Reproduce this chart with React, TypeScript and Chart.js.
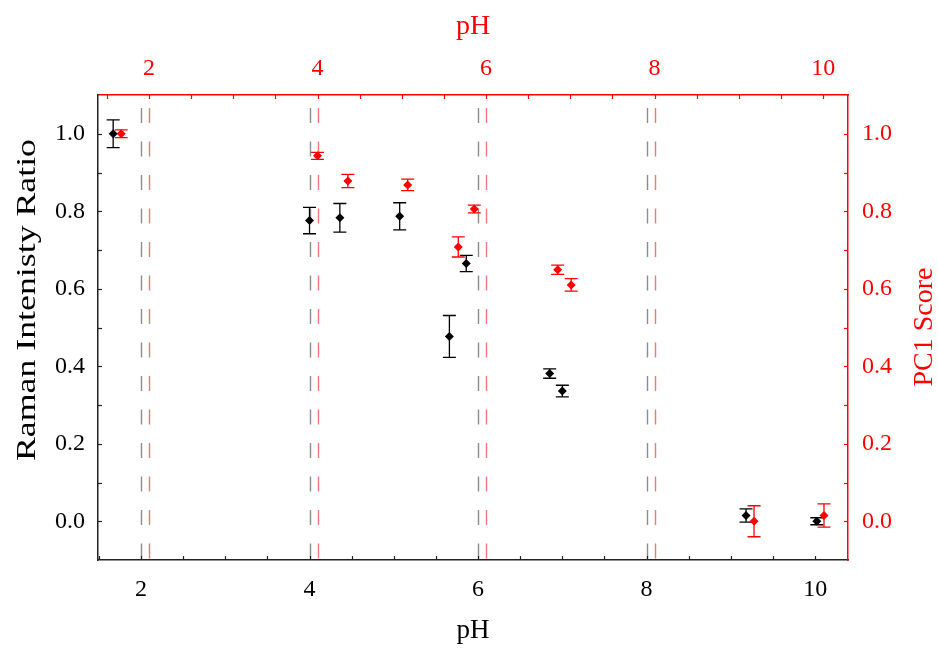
import React, { useEffect, useRef } from "react";
import { Chart, registerables } from "chart.js";
Chart.register(...registerables);

// ---- data ----
const ramanPH = [1.67, 4.0, 4.36, 5.07, 5.66, 5.86, 6.85, 7.0, 9.18, 10.02];
const ramanRatio = [1.0, 0.776, 0.783, 0.787, 0.477, 0.665, 0.381, 0.336, 0.015, 0.0];
const ramanErr = [0.036, 0.034, 0.037, 0.035, 0.054, 0.021, 0.012, 0.015, 0.017, 0.009];

const pc1PH = [1.67, 4.0, 4.36, 5.07, 5.67, 5.86, 6.85, 7.01, 9.18, 10.01];
const pc1Score = [1.0, 0.943, 0.878, 0.868, 0.708, 0.806, 0.649, 0.61, 0.0, 0.015];
const pc1Err = [0.01, 0.009, 0.017, 0.015, 0.026, 0.01, 0.012, 0.016, 0.04, 0.03];

const xTickLabels = [2, 4, 6, 8, 10];
const yTickLabels = [0.0, 0.2, 0.4, 0.6, 0.8, 1.0];
const xMinorTicks = [1.5, 2, 2.5, 3, 3.5, 4, 4.5, 5, 5.5, 6, 6.5, 7, 7.5, 8, 8.5, 9, 9.5, 10];
const yMinorTicks = [0, 0.1, 0.2, 0.3, 0.4, 0.5, 0.6, 0.7, 0.8, 0.9, 1.0];
const dashedPH = [2, 4, 6, 8];

const leftTitle = "Raman Intenisty Ratio";
const rightTitle = "PC1 Score";
const xTitle = "pH";

const SERIF = "'Liberation Serif', 'Times New Roman', serif";
const RED = "#ff0000";
const BLACK = "#000000";

const decorPlugin = {
  id: "decor",
  beforeDatasetsDraw(chart: any) {
    const { ctx, chartArea: a, scales } = chart;
    ctx.save();
    // dashed vertical reference lines
    ctx.lineWidth = 1.4;
    ctx.setLineDash([15, 18.5]);
    dashedPH.forEach((v) => {
      const pairs: [any, string][] = [
        [scales.x, "#8c8c8c"],
        [scales.x2, "#f07878"],
      ];
      pairs.forEach(([s, c]) => {
        const px = Math.round(s.getPixelForValue(v)) + 0.5;
        ctx.strokeStyle = c;
        ctx.beginPath();
        ctx.moveTo(px, a.bottom - 1.5);
        ctx.lineTo(px, a.top);
        ctx.stroke();
      });
    });
    ctx.setLineDash([]);
    // error bars
    const errs = [ramanErr, pc1Err];
    chart.data.datasets.forEach((ds: any, i: number) => {
      const xs = scales[ds.xAxisID];
      const ys = scales[ds.yAxisID];
      ctx.strokeStyle = ds.borderColor;
      ctx.lineWidth = 1.3;
      ds.data.forEach((p: any, j: number) => {
        const e = errs[i][j];
        const px = xs.getPixelForValue(p.x);
        const y1 = ys.getPixelForValue(p.y - e);
        const y2 = ys.getPixelForValue(p.y + e);
        const hw = 6.5;
        ctx.beginPath();
        ctx.moveTo(px, y1);
        ctx.lineTo(px, y2);
        ctx.moveTo(px - hw, y1);
        ctx.lineTo(px + hw, y1);
        ctx.moveTo(px - hw, y2);
        ctx.lineTo(px + hw, y2);
        ctx.stroke();
      });
    });
    ctx.restore();
  },
  afterDraw(chart: any) {
    const { ctx, chartArea: a, scales } = chart;
    ctx.save();
    // inward tick marks
    ctx.lineWidth = 1.2;
    const tl = 4;
    ctx.strokeStyle = "#222";
    xMinorTicks.forEach((v) => {
      const px = Math.round(scales.x.getPixelForValue(v)) + 0.5;
      if (px < a.left || px > a.right) return;
      ctx.beginPath();
      ctx.moveTo(px, a.bottom);
      ctx.lineTo(px, a.bottom - tl);
      ctx.stroke();
    });
    yMinorTicks.forEach((v) => {
      const py = Math.round(scales.y.getPixelForValue(v)) + 0.5;
      ctx.beginPath();
      ctx.moveTo(a.left, py);
      ctx.lineTo(a.left + tl, py);
      ctx.stroke();
    });
    ctx.strokeStyle = RED;
    xMinorTicks.forEach((v) => {
      const px = Math.round(scales.x2.getPixelForValue(v)) + 0.5;
      if (px < a.left || px > a.right) return;
      ctx.beginPath();
      ctx.moveTo(px, a.top);
      ctx.lineTo(px, a.top + tl);
      ctx.stroke();
    });
    yMinorTicks.forEach((v) => {
      const py = Math.round(scales.y2.getPixelForValue(v)) + 0.5;
      ctx.beginPath();
      ctx.moveTo(a.right, py);
      ctx.lineTo(a.right - tl, py);
      ctx.stroke();
    });

    // left title (rotated, reads bottom to top)
    ctx.fillStyle = BLACK;
    ctx.font = `27px ${SERIF}`;
    ctx.textAlign = "center";
    ctx.textBaseline = "alphabetic";
    ctx.save();
    ctx.translate(35, 300);
    ctx.rotate(-Math.PI / 2);
    const w = ctx.measureText(leftTitle).width;
    ctx.scale(322 / w, 1);
    ctx.fillText(leftTitle, 0, 0);
    ctx.restore();

    // right title (rotated, reads bottom to top)
    ctx.fillStyle = RED;
    ctx.font = `28px ${SERIF}`;
    ctx.save();
    ctx.translate(932, 327);
    ctx.rotate(-Math.PI / 2);
    ctx.fillText(rightTitle, 0, 0);
    ctx.restore();
    ctx.restore();
  },
};

export default function App() {
  const ref = useRef<HTMLCanvasElement | null>(null);
  useEffect(() => {
    if (!ref.current) return;
    const tickFont = { family: SERIF, size: 24 };
    const chart = new Chart(ref.current, {
      type: "scatter",
      data: {
        datasets: [
          {
            label: "Raman Intensity Ratio",
            data: ramanPH.map((x, i) => ({ x, y: ramanRatio[i] })),
            xAxisID: "x",
            yAxisID: "y",
            backgroundColor: BLACK,
            borderColor: BLACK,
            pointStyle: "rectRot",
            pointRadius: 4.5,
            borderWidth: 0,
          },
          {
            label: "PC1 Score",
            data: pc1PH.map((x, i) => ({ x, y: pc1Score[i] })),
            xAxisID: "x2",
            yAxisID: "y2",
            backgroundColor: RED,
            borderColor: RED,
            pointStyle: "rectRot",
            pointRadius: 4.5,
            borderWidth: 0,
          },
        ],
      },
      options: {
        animation: false,
        responsive: true,
        maintainAspectRatio: false,
        layout: { padding: 0 },
        plugins: {
          legend: { display: false },
          tooltip: { enabled: false },
        },
        scales: {
          x: {
            type: "linear",
            position: "bottom",
            min: 1.49,
            max: 10.39,
            grid: { display: false, drawTicks: false },
            border: { display: true, color: "#222", width: 1.5 },
            ticks: { color: BLACK, font: tickFont, padding: 15, maxRotation: 0 },
            title: {
              display: true,
              text: xTitle,
              color: BLACK,
              font: { family: SERIF, size: 27 },
              padding: { top: 0, bottom: 1 },
            },
            afterBuildTicks: (s: any) => {
              s.ticks = xTickLabels.map((v) => ({ value: v }));
            },
            afterFit: (s: any) => {
              s.height = 88;
            },
          },
          x2: {
            type: "linear",
            position: "top",
            min: 1.395,
            max: 10.295,
            grid: { display: false, drawTicks: false },
            border: { display: true, color: RED, width: 1.5 },
            ticks: { color: RED, font: tickFont, padding: 12, maxRotation: 0 },
            title: {
              display: true,
              text: xTitle,
              color: RED,
              font: { family: SERIF, size: 28 },
              padding: { top: 10, bottom: 0 },
            },
            afterBuildTicks: (s: any) => {
              s.ticks = xTickLabels.map((v) => ({ value: v }));
            },
            afterFit: (s: any) => {
              s.height = 95;
            },
          },
          y: {
            type: "linear",
            position: "left",
            min: -0.1,
            max: 1.1,
            grid: { display: false, drawTicks: false },
            border: { display: true, color: "#222", width: 1.5 },
            ticks: {
              color: BLACK,
              font: tickFont,
              padding: 13,
              callback: (v: any) => Number(v).toFixed(1),
            },
            afterBuildTicks: (s: any) => {
              s.ticks = yTickLabels.map((v) => ({ value: v }));
            },
            afterFit: (s: any) => {
              s.width = 98;
            },
          },
          y2: {
            type: "linear",
            position: "right",
            min: -0.1,
            max: 1.1,
            grid: { display: false, drawTicks: false },
            border: { display: true, color: RED, width: 1.5 },
            ticks: {
              color: RED,
              font: tickFont,
              padding: 14,
              callback: (v: any) => Number(v).toFixed(1),
            },
            afterBuildTicks: (s: any) => {
              s.ticks = yTickLabels.map((v) => ({ value: v }));
            },
            afterFit: (s: any) => {
              s.width = 90;
            },
          },
        },
      },
      plugins: [decorPlugin],
    } as any);
    return () => chart.destroy();
  }, []);
  return (
    <div
      style={{
        position: "fixed",
        left: 0,
        top: 0,
        width: 938,
        height: 648,
        background: "#ffffff",
      }}
    >
      <canvas ref={ref} />
    </div>
  );
}
